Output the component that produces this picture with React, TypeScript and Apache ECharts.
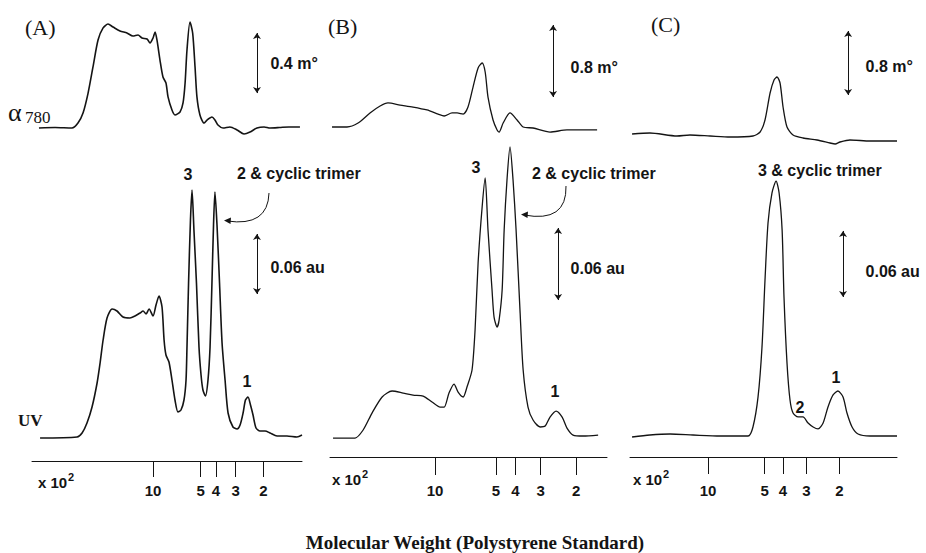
import React, { useEffect, useRef } from "react";
import * as echarts from "echarts";

// Polystyrene calibration marks, molecular weight ×10²
const mwTicks = [10, 5, 4, 3, 2];

// Traces: [log10(MW / 100), signal]; α780 in m°, UV in au

const alphaA: [number, number][] = [
  [1.722, 0], [1.62, 0.003], [1.513, 0], [1.475, 0.033], [1.443, 0.1], [1.411, 0.233],
  [1.38, 0.407], [1.348, 0.587], [1.316, 0.667], [1.285, 0.693], [1.253, 0.673],
  [1.209, 0.647], [1.165, 0.633], [1.127, 0.613], [1.095, 0.62], [1.07, 0.6],
  [1.038, 0.593], [1.019, 0.567], [1.0, 0.6], [0.987, 0.64], [0.975, 0.587],
  [0.956, 0.453], [0.937, 0.34], [0.918, 0.3], [0.905, 0.207], [0.88, 0.12],
  [0.861, 0.087], [0.829, 0.107], [0.81, 0.167], [0.797, 0.3], [0.785, 0.52],
  [0.766, 0.707], [0.749, 0.633], [0.734, 0.407], [0.722, 0.207], [0.703, 0.087],
  [0.677, 0.033], [0.658, 0.053], [0.627, 0.073], [0.608, 0.053], [0.589, 0.02],
  [0.557, 0], [0.513, 0.007], [0.468, -0.013], [0.424, -0.04], [0.386, -0.027],
  [0.342, 0], [0.297, 0.007], [0.259, 0], [0.2, 0.003], [0.14, 0.007], [0.07, 0.007],
];

const uvA: [number, number][] = [
  [1.715, 0], [1.481, 0.001], [1.449, 0.005], [1.418, 0.015], [1.386, 0.031],
  [1.354, 0.055], [1.335, 0.075], [1.316, 0.098], [1.291, 0.12], [1.259, 0.129],
  [1.228, 0.127], [1.19, 0.121], [1.146, 0.12], [1.114, 0.122], [1.082, 0.125],
  [1.063, 0.127], [1.044, 0.124], [1.025, 0.129], [1.0, 0.122], [0.981, 0.133],
  [0.962, 0.142], [0.943, 0.131], [0.93, 0.098], [0.918, 0.083], [0.899, 0.076],
  [0.88, 0.058], [0.861, 0.038], [0.842, 0.026], [0.823, 0.028], [0.804, 0.038],
  [0.791, 0.058], [0.785, 0.091], [0.775, 0.155], [0.763, 0.218], [0.753, 0.248],
  [0.741, 0.208], [0.725, 0.155], [0.709, 0.091], [0.696, 0.063], [0.684, 0.048],
  [0.668, 0.042], [0.652, 0.058], [0.639, 0.091], [0.627, 0.155], [0.617, 0.213],
  [0.608, 0.246], [0.595, 0.213], [0.579, 0.155], [0.563, 0.095], [0.544, 0.058],
  [0.525, 0.025], [0.494, 0.011], [0.468, 0.009], [0.449, 0.013], [0.43, 0.025],
  [0.415, 0.038], [0.399, 0.041], [0.383, 0.033], [0.367, 0.023], [0.348, 0.01],
  [0.323, 0.007], [0.291, 0.007], [0.259, 0.005], [0.215, 0.002], [0.152, 0.002],
  [0.089, 0.001], [0.057, 0.003],
];

const alphaB: [number, number][] = [
  [1.51, 0], [1.436, 0], [1.381, 0.044], [1.322, 0.156], [1.272, 0.233], [1.233, 0.267],
  [1.173, 0.244], [1.109, 0.222], [1.04, 0.189], [0.985, 0.144], [0.955, 0.122],
  [0.916, 0.156], [0.891, 0.156], [0.861, 0.144], [0.837, 0.222], [0.812, 0.444],
  [0.787, 0.656], [0.767, 0.711], [0.752, 0.611], [0.738, 0.333], [0.713, 0.078],
  [0.693, -0.033], [0.683, -0.056], [0.663, 0.044], [0.629, 0.156], [0.594, 0.078],
  [0.564, 0], [0.515, -0.011], [0.431, -0.056], [0.347, -0.033], [0.267, -0.033],
  [0.198, -0.033],
];

const uvB: [number, number][] = [
  [1.505, 0], [1.396, 0], [1.356, 0.0067], [1.312, 0.0208], [1.262, 0.0342],
  [1.213, 0.0392], [1.158, 0.0375], [1.109, 0.0358], [1.059, 0.035], [1.015, 0.03],
  [0.975, 0.0258], [0.955, 0.0258], [0.931, 0.0375], [0.906, 0.045], [0.886, 0.0383],
  [0.861, 0.0342], [0.842, 0.0425], [0.817, 0.0567], [0.802, 0.09], [0.787, 0.1458],
  [0.767, 0.1925], [0.752, 0.2167], [0.738, 0.1733], [0.718, 0.1233], [0.708, 0.1008],
  [0.693, 0.0925], [0.683, 0.0983], [0.668, 0.1233], [0.658, 0.1733], [0.644, 0.215],
  [0.629, 0.2425], [0.614, 0.215], [0.599, 0.1733], [0.579, 0.1042], [0.564, 0.0567],
  [0.54, 0.0258], [0.515, 0.015], [0.48, 0.0092], [0.455, 0.01], [0.431, 0.0175],
  [0.401, 0.0225], [0.371, 0.0175], [0.347, 0.0083], [0.317, 0.0025], [0.267, 0.0017],
  [0.193, 0.0025],
];

const alphaC: [number, number][] = [
  [1.404, 0.0125], [1.309, 0.025], [1.165, -0.0125], [1.096, 0], [0.989, -0.0125],
  [0.883, -0.025], [0.761, -0.0125], [0.723, 0.0375], [0.697, 0.1875], [0.67, 0.525],
  [0.649, 0.6875], [0.633, 0.725], [0.617, 0.65], [0.601, 0.35], [0.58, 0.1],
  [0.548, 0], [0.495, -0.0375], [0.42, -0.0625], [0.351, -0.1], [0.324, -0.1125],
  [0.298, -0.0875], [0.245, -0.0625], [0.138, -0.075], [-0.005, -0.075],
];

const uvC: [number, number][] = [
  [1.404, 0], [1.309, 0.0018], [1.202, 0.0027], [1.08, 0.0018], [0.936, 0.0009],
  [0.787, 0.0009], [0.761, 0.0091], [0.734, 0.0364], [0.713, 0.0818], [0.697, 0.1427],
  [0.681, 0.1945], [0.66, 0.2218], [0.638, 0.2327], [0.622, 0.2218], [0.606, 0.1882],
  [0.596, 0.1273], [0.58, 0.0673], [0.564, 0.0336], [0.548, 0.0218], [0.521, 0.0182],
  [0.495, 0.0182], [0.468, 0.0127], [0.441, 0.0091], [0.415, 0.0073], [0.388, 0.0127],
  [0.362, 0.0273], [0.335, 0.0382], [0.309, 0.0418], [0.282, 0.0364], [0.261, 0.0218],
  [0.234, 0.0091], [0.202, 0.0027], [0.138, 0.0009], [-0.005, 0.0009],
];

// Scale bars: [x, lower end, length, label]
const alphaBars: [number, number, number, string][] = [
  [0.342, 0.233, 0.4, "0.4 m°"],
  [0.416, 0.333, 0.8, "0.8 m°"],
  [0.255, 0.5, 0.8, "0.8 m°"],
];
const uvBars: [number, number, number, string][] = [
  [0.342, 0.144, 0.06, "0.06 au"],
  [0.391, 0.115, 0.06, "0.06 au"],
  [0.282, 0.1273, 0.06, "0.06 au"],
];

const INK = "#141414";
const SANS = "'Liberation Sans', Arial, sans-serif";
const SERIF = "'Liberation Serif', 'Times New Roman', serif";
const LABEL_SIZE = 16;

const panels = [
  {
    alpha: alphaA, uv: uvA, x: [0.057, 1.766], left: 32, width: 270,
    aTop: 8, aH: 135, aY: [-0.1, 0.8], uTop: 158, uH: 303, uY: [-0.023, 0.28],
    lw: 1.6, tick: 16, margin: 22, gaps: [[13, 0], [13, 3]],
  },
  {
    alpha: alphaB, uv: uvB, x: [0.149, 1.52], left: 330, width: 277,
    aTop: 19, aH: 126, aY: [-0.2, 1.2], uTop: 138, uH: 319, uY: [-0.0158, 0.25],
    lw: 1.3, tick: 18, margin: 26, gaps: [[17, 6], [12, 4]],
  },
  {
    alpha: alphaC, uv: uvC, x: [-0.005, 1.415], left: 630, width: 267,
    aTop: 23, aH: 128, aY: [-0.2, 1.4], uTop: 162, uH: 295, uY: [-0.0182, 0.25],
    lw: 1.3, tick: 17, margin: 26, gaps: [[17, 3], [22, 8]],
  },
];

const tickPositions = mwTicks.map((m) => Math.log10(m));

function scaleBar(bar: [number, number, number, string], gap: number[]) {
  const [x, y0, len, text] = bar;
  return {
    markLine: {
      silent: true,
      animation: false,
      symbol: ["arrow", "arrow"],
      symbolSize: 6,
      lineStyle: { color: INK, width: 1, type: "solid" },
      label: { show: false },
      data: [[{ coord: [x, y0] }, { coord: [x, y0 + len] }]],
    },
    markPoint: {
      silent: true,
      animation: false,
      symbol: "circle",
      symbolSize: 1,
      itemStyle: { color: "rgba(0,0,0,0)" },
      label: {
        show: true,
        position: "right",
        distance: gap[0],
        offset: [0, gap[1]],
        formatter: text,
        color: INK,
        fontFamily: SANS,
        fontWeight: "bold",
        fontSize: LABEL_SIZE,
      },
      data: [{ coord: [x, y0 + len / 2] }],
    },
  };
}

function buildOption() {
  const grid: any[] = [];
  const xAxis: any[] = [];
  const yAxis: any[] = [];
  const series: any[] = [];

  panels.forEach((p, i) => {
    grid.push({ left: p.left, width: p.width, top: p.aTop, height: p.aH });
    grid.push({ left: p.left, width: p.width, top: p.uTop, height: p.uH });

    xAxis.push({
      gridIndex: 2 * i, type: "value", inverse: true, min: p.x[0], max: p.x[1], show: false,
    });
    xAxis.push({
      gridIndex: 2 * i + 1,
      type: "value",
      inverse: true,
      min: p.x[0],
      max: p.x[1],
      splitLine: { show: false },
      axisLine: { show: true, onZero: false, lineStyle: { color: INK, width: 1 } },
      axisTick: {
        show: true,
        inside: false,
        customValues: tickPositions,
        length: p.tick,
        lineStyle: { color: INK, width: 1 },
      },
      axisLabel: {
        show: true,
        customValues: tickPositions,
        formatter: (v: number) => String(Math.round(Math.pow(10, v))),
        margin: p.margin,
        color: INK,
        fontFamily: SANS,
        fontWeight: "bold",
        fontSize: 15,
      },
    });
    yAxis.push({ gridIndex: 2 * i, type: "value", min: p.aY[0], max: p.aY[1], show: false });
    yAxis.push({ gridIndex: 2 * i + 1, type: "value", min: p.uY[0], max: p.uY[1], show: false });

    const common = {
      type: "line",
      showSymbol: false,
      smooth: 0.25,
      silent: true,
      clip: false,
      lineStyle: { color: INK, width: p.lw },
    };
    series.push({
      ...common,
      name: `α780 ${i}`,
      xAxisIndex: 2 * i,
      yAxisIndex: 2 * i,
      data: p.alpha,
      ...scaleBar(alphaBars[i], p.gaps[0]),
    });
    series.push({
      ...common,
      name: `UV ${i}`,
      xAxisIndex: 2 * i + 1,
      yAxisIndex: 2 * i + 1,
      data: p.uv,
      ...scaleBar(uvBars[i], p.gaps[1]),
    });
  });

  const label = (text: string, x: number, y: number, size = LABEL_SIZE, align = "left") => ({
    type: "text",
    x,
    y,
    silent: true,
    style: {
      text,
      fill: INK,
      fontFamily: SANS,
      fontWeight: "bold",
      fontSize: size,
      align,
      verticalAlign: "middle",
    },
  });
  const serif = (text: string, x: number, y: number, size: number, weight = "normal", align = "left") => ({
    type: "text",
    x,
    y,
    silent: true,
    style: {
      text,
      fill: INK,
      fontFamily: SERIF,
      fontWeight: weight,
      fontSize: size,
      align,
      verticalAlign: "middle",
    },
  });
  // "x 10" followed by a raised exponent
  const power = (x: number, y: number) => [label("x 10", x, y, 15), label("2", x + 30, y - 5, 11)];

  const graphic = [
    serif("(A)", 25, 27, 22),
    serif("(B)", 328, 26, 22),
    serif("(C)", 651, 24, 22),
    serif("α", 8, 112, 26),
    serif("780", 25, 117, 17),
    serif("UV", 18, 420, 17, "bold"),
    ...power(38, 482),
    ...power(332, 479),
    ...power(633, 479),
    label("3", 188, 174, LABEL_SIZE, "center"),
    label("2 & cyclic trimer", 237, 173),
    label("1", 247, 381, LABEL_SIZE, "center"),
    label("3", 476, 167, LABEL_SIZE, "center"),
    label("2 & cyclic trimer", 532, 173),
    label("1", 555, 391, LABEL_SIZE, "center"),
    label("3 & cyclic trimer", 758, 170),
    label("2", 800, 407, LABEL_SIZE, "center"),
    label("1", 836, 377, LABEL_SIZE, "center"),
    serif("Molecular Weight (Polystyrene Standard)", 475, 542, 19, "bold", "center"),
    {
      type: "bezierCurve",
      silent: true,
      shape: { x1: 269, y1: 193, x2: 227, y2: 221, cpx1: 268, cpy1: 227 },
      style: { stroke: INK, lineWidth: 1, fill: "none" },
    },
    {
      type: "polygon",
      silent: true,
      shape: { points: [[224, 220.5], [231, 217.5], [230.5, 224]] },
      style: { fill: INK },
    },
    {
      type: "bezierCurve",
      silent: true,
      shape: { x1: 566, y1: 186, x2: 524, y2: 215, cpx1: 567, cpy1: 223 },
      style: { stroke: INK, lineWidth: 1, fill: "none" },
    },
    {
      type: "polygon",
      silent: true,
      shape: { points: [[521, 214.5], [528, 211.5], [527.5, 218]] },
      style: { fill: INK },
    },
  ];

  return {
    animation: false,
    backgroundColor: "#ffffff",
    grid,
    xAxis,
    yAxis,
    series,
    graphic,
  };
}

export default function App() {
  const ref = useRef<HTMLDivElement>(null);

  useEffect(() => {
    document.body.style.margin = "0";
    if (!ref.current) return;
    const chart = echarts.init(ref.current, undefined, { renderer: "svg" });
    chart.setOption(buildOption() as any);
    return () => chart.dispose();
  }, []);

  return <div ref={ref} style={{ width: 926, height: 553 }} />;
}
